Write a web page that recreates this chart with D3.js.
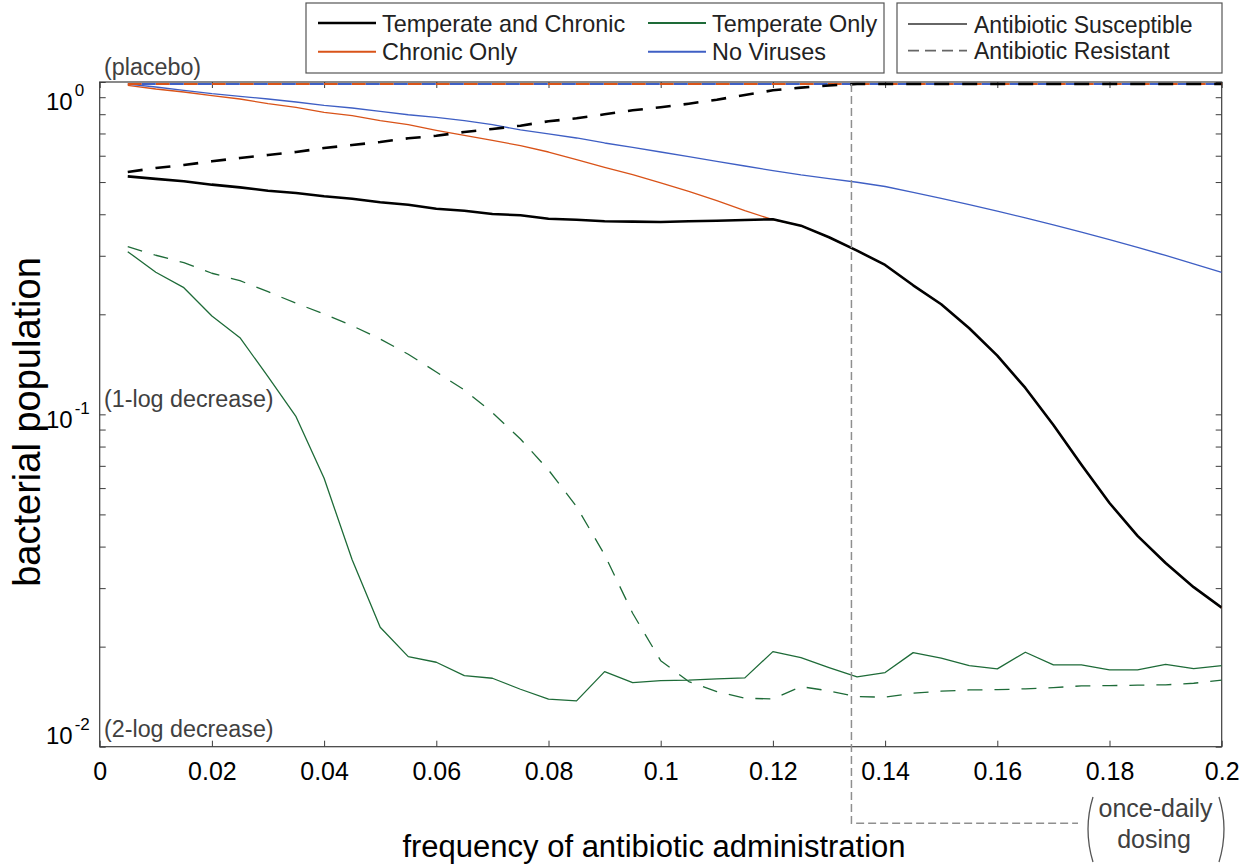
<!DOCTYPE html>
<html><head><meta charset="utf-8">
<script src="https://cdn.jsdelivr.net/npm/d3@7"></script>
<style>
body{margin:0;background:#fff}
svg{display:block}
text{font-family:"Liberation Sans",Arial,Helvetica,sans-serif}
</style>
</head><body>
<svg id="c" width="1251" height="865"></svg>
<script>
// ---------------- data ----------------
const freq = [0.005,0.01,0.015,0.02,0.025,0.03,0.035,0.04,0.045,0.05,0.055,0.06,0.065,0.07,0.075,0.08,0.085,0.09,0.095,0.1,
              0.105,0.11,0.115,0.12,0.125,0.13,0.135,0.14,0.145,0.15,0.155,0.16,0.165,0.17,0.175,0.18,0.185,0.19,0.195,0.2];

const tempChronicSusceptible = [0.520,0.511,0.503,0.491,0.482,0.471,0.4635,0.453,0.4455,0.4345,
  0.4274,0.4157,0.410,0.4008,0.3972,0.3879,0.3852,0.3810,0.380,0.3792,
  0.381,0.3826,0.3844,0.3863,0.3696,0.341,0.3109,0.2815,0.2445,0.2144,
  0.1816,0.1502,0.1201,0.0929,0.0705,0.0541,0.0431,0.0357,0.0302,0.0262];
const tempChronicResistant = [0.536,0.551,0.5626,0.5773,0.5906,0.603,0.6157,0.633,0.6463,0.66,
  0.677,0.689,0.7073,0.7222,0.7389,0.7616,0.7776,0.7995,0.822,0.8393,
  0.8604,0.8846,0.914,0.9441,0.962,0.976,0.986,0.986,0.986,0.986,
  0.986,0.986,0.986,0.986,0.986,0.986,0.986,0.986,0.986,0.986];
const chronicSusceptible = [0.977,0.9526,0.9331,0.9095,0.8888,0.8604,0.8393,0.8107,0.7919,0.7648,
  0.7438,0.7157,0.6914,0.6677,0.6431,0.6157,0.5837,0.5537,0.5261,0.4968,
  0.469,0.4394,0.41,0.3852,0.3696,0.341,0.3109,0.2815,0.2445,0.2144,
  0.1816,0.1502,0.1201,0.0929,0.0705,0.0541,0.0431,0.0357,0.0302,0.0262];
const chronicResistant = [0.986,0.986,0.986,0.986,0.986,0.986,0.986,0.986,0.986,0.986,
  0.986,0.986,0.986,0.986,0.986,0.986,0.986,0.986,0.986,0.986,
  0.986,0.986,0.986,0.986,0.986,0.986,0.986,0.986,0.986,0.986,
  0.986,0.986,0.986,0.986,0.986,0.986,0.986,0.986,0.986,0.986];
const temperateSusceptible = [0.3087,0.2676,0.2405,0.1977,0.1701,0.1298,0.0984,0.0642,0.0365,0.02288,
  0.01867,0.01795,0.01636,0.01607,0.01489,0.0139,0.01374,0.01682,0.01559,0.01581,
  0.01585,0.016,0.01611,0.01932,0.01854,0.0173,0.01622,0.01671,0.01919,0.01846,
  0.01754,0.01714,0.01924,0.01762,0.01762,0.01702,0.01702,0.0177,0.01718,0.01754];
const temperateResistant = [0.3195,0.3011,0.286,0.2658,0.2525,0.2339,0.2159,0.2004,0.1848,0.1686,
  0.1517,0.1341,0.1184,0.1012,0.0843,0.068,0.0528,0.0378,0.02521,0.01815,
  0.0157,0.01465,0.01399,0.01392,0.01516,0.01472,0.01415,0.01409,0.01449,0.01469,
  0.01482,0.01485,0.01493,0.01506,0.01524,0.01527,0.01531,0.01535,0.01552,0.01585];
const noVirusSusceptible = [0.986,0.966,0.9441,0.9222,0.9058,0.8888,0.8706,0.8508,0.8352,0.8163,
  0.7971,0.7829,0.7648,0.7438,0.7172,0.6976,0.6785,0.6554,0.6361,0.6157,
  0.596,0.5773,0.5588,0.541,0.5251,0.5122,0.4993,0.4848,0.4658,0.4468,
  0.4278,0.4089,0.3902,0.3717,0.3533,0.3354,0.3178,0.3006,0.2838,0.2676];
const noVirusResistant = [0.986,0.986,0.986,0.986,0.986,0.986,0.986,0.986,0.986,0.986,
  0.986,0.986,0.986,0.986,0.986,0.986,0.986,0.986,0.986,0.986,
  0.986,0.986,0.986,0.986,0.986,0.986,0.986,0.986,0.986,0.986,
  0.986,0.986,0.986,0.986,0.986,0.986,0.986,0.986,0.986,0.986];

const xTickValues = [0,0.02,0.04,0.06,0.08,0.1,0.12,0.14,0.16,0.18,0.2];
const xTickLabels = ["0","0.02","0.04","0.06","0.08","0.1","0.12","0.14","0.16","0.18","0.2"];
const yMajorTicks = [0.01,0.1,1];
const yMajorExponents = ["-2","-1","0"];
const yNotes = ["(2-log decrease)","(1-log decrease)","(placebo)"];
const seriesNames = ["Temperate and Chronic","Chronic Only","Temperate Only","No Viruses"];
const styleNames = ["Antibiotic Susceptible","Antibiotic Resistant"];
const onceDaily = 0.134;

// ---------------- layout ----------------
const svg = d3.select('#c');
const L = 99.7, R = 1221.7, T = 82, B = 746.7;
const x = d3.scaleLinear().domain([0,0.2]).range([L,R]);
const y = d3.scaleLog().domain([0.01,1]).range([B,T]);
const axisColor = '#3c3c3c';
const noteColor = '#404040';

svg.append('defs').append('clipPath').attr('id','clip')
  .append('rect').attr('x',L).attr('y',T-3).attr('width',R-L).attr('height',B-T+3);

const yAllTicks = [];
[0.01,0.1].forEach(d=>{ for(let k=1;k<10;k++) yAllTicks.push(d*k); });
yAllTicks.push(1);

function styleAxis(g){
  g.select('.domain').remove();
  g.selectAll('.tick line').attr('stroke',axisColor).attr('stroke-width',1);
}
const gx = svg.append('g').attr('transform',`translate(0,${B})`)
  .call(d3.axisBottom(x).tickValues(xTickValues).tickSizeInner(-6).tickSizeOuter(0).tickPadding(16)
        .tickFormat((d,i)=>xTickLabels[i]));
styleAxis(gx);
gx.selectAll('.tick text').attr('font-size',25).attr('fill','#000')
  .attr('font-family','"Liberation Sans",Arial,Helvetica,sans-serif');
const gxt = svg.append('g').attr('transform',`translate(0,${T})`)
  .call(d3.axisTop(x).tickValues(xTickValues).tickSizeInner(-6).tickSizeOuter(0).tickFormat(''));
styleAxis(gxt);
const gy = svg.append('g').attr('transform',`translate(${L},0)`)
  .call(d3.axisLeft(y).tickValues(yAllTicks).tickSizeInner(-6).tickSizeOuter(0).tickFormat(''));
styleAxis(gy);
const gyr = svg.append('g').attr('transform',`translate(${R},0)`)
  .call(d3.axisRight(y).tickValues(yAllTicks).tickSizeInner(-6).tickSizeOuter(0).tickFormat(''));
styleAxis(gyr);

svg.append('rect').attr('x',L).attr('y',T).attr('width',R-L).attr('height',B-T)
  .attr('fill','none').attr('stroke',axisColor).attr('stroke-width',1.2);

// y tick labels 10^n (shifted relative to ticks as in the reference)
const yLabelShift = [-2.4, 14, 28];
yMajorTicks.forEach((v,i)=>{
  const yy = y(v) + yLabelShift[i];
  const t = svg.append('text').attr('x',46).attr('y',yy).attr('font-size',24).attr('fill','#000');
  t.append('tspan').text('10');
  t.append('tspan').attr('dy',-14).attr('font-size',17).attr('dx',2).text(yMajorExponents[i]);
  const noteY = [y(v)-10, y(v)-7.6, y(v)-7][i];
  svg.append('text').attr('x',104).attr('y',noteY).attr('font-size',23.3).attr('fill',noteColor).text(yNotes[i]);
});

// ---------------- lines ----------------
const plot = svg.append('g').attr('clip-path','url(#clip)');
const line = d3.line().x((d,i)=>x(freq[i])).y(d=>y(d));
const colors = {black:'#000000', orange:'#D95319', green:'#1e6b38', blue:'#3f5fc4'};

function draw(data,color,w,dash,offset){
  plot.append('path').datum(data).attr('d',line).attr('fill','none')
    .attr('stroke',color).attr('stroke-width',w)
    .attr('stroke-dasharray',dash||null).attr('stroke-dashoffset',offset||0)
    .attr('stroke-linejoin','round');
}
draw(chronicSusceptible,colors.orange,1.3);
draw(noVirusSusceptible,colors.blue,1.3);
draw(chronicResistant,colors.orange,2,'14,14',0);
draw(noVirusResistant,colors.blue,2,'14,14',14);
draw(temperateSusceptible,colors.green,1.3);
draw(temperateResistant,colors.green,1.3,'15,12');
draw(tempChronicSusceptible,colors.black,2.6);
draw(tempChronicResistant,colors.black,2.6,'15,13');

// once-daily dosing marker
const xd = x(onceDaily);
svg.append('path').attr('d',`M${xd},${T+2}V${823.3}H${1078}`)
  .attr('fill','none').attr('stroke','#8f8f8f').attr('stroke-width',1.5).attr('stroke-dasharray','8,4');
svg.append('text').attr('x',1155.5).attr('y',817.3).attr('text-anchor','middle').attr('font-size',25)
  .attr('fill',noteColor).text('once-daily');
svg.append('text').attr('x',1154).attr('y',848.3).attr('text-anchor','middle').attr('font-size',25)
  .attr('fill',noteColor).text('dosing');
svg.append('path').attr('d','M1093,797 Q1083,829 1093,862').attr('fill','none').attr('stroke','#555').attr('stroke-width',1.3);
svg.append('path').attr('d','M1219,797 Q1229,829 1219,862').attr('fill','none').attr('stroke','#555').attr('stroke-width',1.3);

// axis labels
svg.append('text').attr('x',654).attr('y',857).attr('text-anchor','middle').attr('font-size',31)
  .attr('fill','#000').text('frequency of antibiotic administration');
svg.append('text').attr('transform','translate(40,422) rotate(-90)').attr('text-anchor','middle')
  .attr('font-size',38).attr('fill','#000').text('bacterial population');

// ---------------- legends ----------------
const leg1 = svg.append('g');
leg1.append('rect').attr('x',306).attr('y',3).attr('width',578).attr('height',70)
  .attr('fill','#fff').attr('stroke','#555').attr('stroke-width',1.2);
const legColors = [colors.black,colors.orange,colors.green,colors.blue];
const legPos = [[318,23],[318,51.7],[648,23],[648,51.7]];
seriesNames.forEach((n,i)=>{
  const [lx,ly] = legPos[i];
  leg1.append('line').attr('x1',lx).attr('x2',lx+58).attr('y1',ly).attr('y2',ly)
    .attr('stroke',legColors[i]).attr('stroke-width',i===0?2.4:2);
  leg1.append('text').attr('x',lx+64).attr('y',ly+8.5).attr('font-size',23.4).attr('fill','#222').text(n);
});
const leg2 = svg.append('g');
leg2.append('rect').attr('x',897).attr('y',3).attr('width',325).attr('height',70)
  .attr('fill','#fff').attr('stroke','#555').attr('stroke-width',1.2);
styleNames.forEach((n,i)=>{
  const ly = [24,50.7][i];
  leg2.append('line').attr('x1',908).attr('x2',967).attr('y1',ly).attr('y2',ly)
    .attr('stroke','#666').attr('stroke-width',1.8).attr('stroke-dasharray',i?'11,6':null);
  leg2.append('text').attr('x',974).attr('y',ly+8.5).attr('font-size',23).attr('fill','#222').text(n);
});
</script>
</body></html>
